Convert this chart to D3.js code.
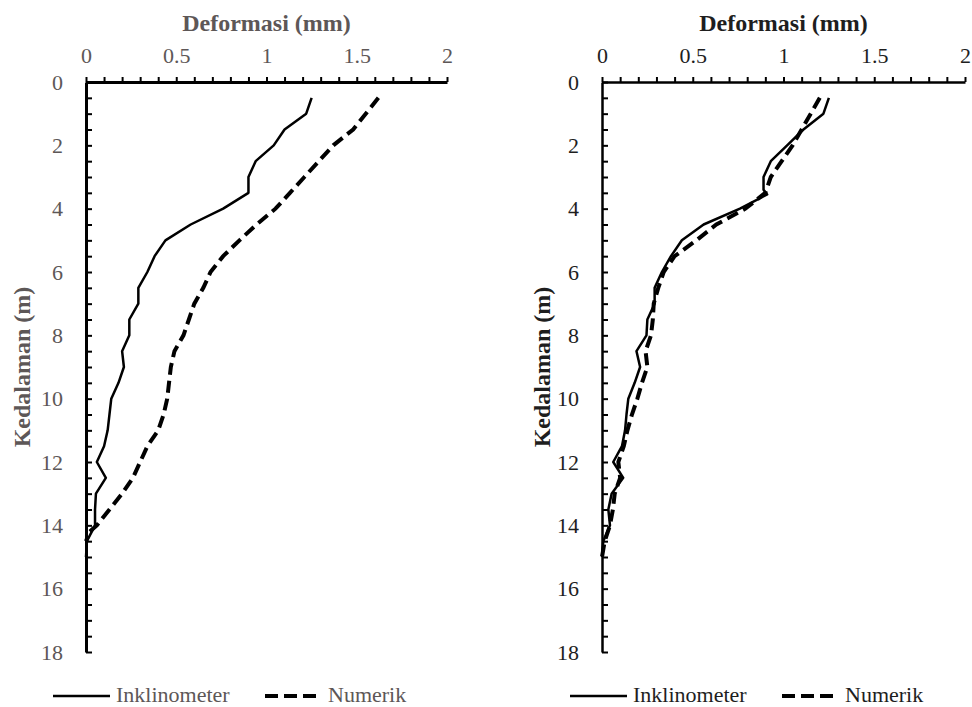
<!DOCTYPE html>
<html>
<head>
<meta charset="utf-8">
<script src="https://cdn.jsdelivr.net/npm/d3@7"></script>
<style>
  body { margin: 0; background: #fff; }
  svg text { font-family: "Liberation Serif", "DejaVu Serif", serif !important; }
</style>
</head>
<body>
<script>
// depth (m) and deformation (mm)
var depthLeftInkl = [0.5, 1, 1.5, 2, 2.5, 3, 3.5, 4, 4.5, 5, 5.5, 6, 6.5, 7, 7.5, 8, 8.5, 9, 9.5, 10, 10.5, 11, 11.5, 12, 12.5, 13, 13.5, 14, 14.5, 15];
var defLeftInkl = [1.25, 1.22, 1.10, 1.04, 0.94, 0.90, 0.90, 0.76, 0.58, 0.44, 0.38, 0.34, 0.29, 0.29, 0.24, 0.24, 0.20, 0.21, 0.18, 0.14, 0.13, 0.12, 0.10, 0.06, 0.11, 0.055, 0.05, 0.05, 0.005, 0];

var depthLeftNum = [0.5, 1, 1.5, 2, 2.5, 3, 3.5, 4, 4.5, 5, 5.5, 6, 6.5, 7, 7.5, 8, 8.5, 9, 9.5, 10, 10.5, 11, 11.5, 12, 12.5, 13, 13.5, 14, 14.2, 14.5];
var defLeftNum = [1.62, 1.55, 1.48, 1.37, 1.29, 1.21, 1.13, 1.05, 0.945, 0.85, 0.76, 0.69, 0.65, 0.60, 0.57, 0.54, 0.49, 0.47, 0.46, 0.45, 0.43, 0.40, 0.34, 0.30, 0.26, 0.20, 0.13, 0.06, 0.02, 0];

var depthRightInkl = [0.5, 1, 1.5, 2, 2.5, 3, 3.4, 3.55, 4, 4.5, 5, 5.5, 6, 6.5, 7, 7.5, 8, 8.5, 9, 9.5, 10, 10.5, 11, 11.5, 12, 12.5, 13, 13.5, 14, 14.5, 15];
var defRightInkl = [1.25, 1.22, 1.11, 1.02, 0.93, 0.89, 0.89, 0.91, 0.76, 0.56, 0.44, 0.38, 0.33, 0.29, 0.29, 0.25, 0.245, 0.19, 0.21, 0.18, 0.145, 0.135, 0.127, 0.11, 0.062, 0.117, 0.053, 0.035, 0.044, 0.007, 0];

var depthRightNum = [0.5, 1, 1.5, 2, 2.5, 3, 3.5, 4, 4.5, 5, 5.5, 6, 6.5, 7, 7.5, 8, 8.5, 9, 9.5, 10, 10.5, 11, 11.5, 12, 12.5, 13, 13.5, 14, 14.5, 15];
var defRightNum = [1.20, 1.15, 1.10, 1.05, 0.99, 0.93, 0.90, 0.79, 0.63, 0.52, 0.40, 0.34, 0.31, 0.285, 0.28, 0.27, 0.24, 0.25, 0.22, 0.195, 0.165, 0.14, 0.12, 0.09, 0.10, 0.07, 0.06, 0.044, 0.015, 0];

var xTicks = [0, 0.5, 1, 1.5, 2];
var yTicks = [0, 2, 4, 6, 8, 10, 12, 14, 16, 18];
var legendNames = ["Inklinometer", "Numerik"];

window.onload = function() {
    var w = 972, h = 707;
    var serif = "'Liberation Serif', 'DejaVu Serif', serif";

    var svg = d3.select("body")
        .append("svg")
        .attr("width", w)
        .attr("height", h);

    function zip(depths, defs) {
        return depths.map(function(d, i) { return { depth: d, def: defs[i] }; });
    }

    // one panel: axes on top/left, two lines, legend underneath
    function drawPanel(opt) {
        var g = svg.append("g");
        var x = d3.scaleLinear().domain([0, 2]).range([opt.x0, opt.x1]);
        var y = d3.scaleLinear().domain([0, 18]).range([82, 652]);

        // minor x ticks every 0.1
        g.append("g")
            .attr("transform", "translate(0,82)")
            .call(d3.axisTop(x).tickValues(d3.range(0, 2.001, 0.1)).tickSize(5).tickSizeOuter(0).tickFormat(""))
            .call(function(a) {
                a.select(".domain").attr("stroke", "#000").attr("stroke-width", opt.axisWidth);
                a.selectAll(".tick line").attr("stroke", "#000").attr("stroke-width", 2);
            });

        // labelled x ticks
        var xa = g.append("g")
            .attr("transform", "translate(0,82)")
            .call(d3.axisTop(x).tickValues(xTicks).tickSize(0).tickPadding(19).tickFormat(d3.format("")));
        xa.select(".domain").remove();
        xa.selectAll("text")
            .style("font-family", serif)
            .style("font-size", "22px")
            .attr("fill", opt.textColor)
            .attr("dy", "0");

        // minor y ticks every 0.5, pointing inside
        g.append("g")
            .attr("transform", "translate(" + opt.x0 + ",0)")
            .call(d3.axisLeft(y).tickValues(d3.range(0, 18.001, 0.5)).tickSize(-6).tickSizeOuter(0).tickFormat(""))
            .call(function(a) {
                a.select(".domain").attr("stroke", "#000").attr("stroke-width", opt.axisWidth);
                a.selectAll(".tick line").attr("stroke", "#000").attr("stroke-width", 2);
            });

        var ya = g.append("g")
            .attr("transform", "translate(" + opt.x0 + ",0)")
            .call(d3.axisLeft(y).tickValues(yTicks).tickSize(0).tickPadding(23));
        ya.select(".domain").remove();
        ya.selectAll("text")
            .style("font-family", serif)
            .style("font-size", "22px")
            .attr("fill", opt.textColor);

        // titles
        g.append("text")
            .attr("x", x(1))
            .attr("y", 31)
            .attr("text-anchor", "middle")
            .style("font-family", serif)
            .style("font-size", "24px")
            .style("font-weight", "bold")
            .attr("fill", opt.textColor)
            .text("Deformasi (mm)");

        g.append("text")
            .attr("transform", "translate(" + opt.yTitleX + "," + y(9) + ") rotate(-90)")
            .attr("text-anchor", "middle")
            .style("font-family", serif)
            .style("font-size", "24px")
            .style("font-weight", "bold")
            .attr("fill", opt.textColor)
            .text("Kedalaman (m)");

        var line = d3.line()
            .x(function(d) { return x(d.def); })
            .y(function(d) { return y(d.depth); });

        g.append("path")
            .datum(opt.inkl)
            .attr("d", line)
            .attr("fill", "none")
            .attr("stroke", "#000")
            .attr("stroke-width", 2.5)
            .attr("stroke-linejoin", "round");

        g.append("path")
            .datum(opt.num)
            .attr("d", line)
            .attr("fill", "none")
            .attr("stroke", "#000")
            .attr("stroke-width", 4)
            .attr("stroke-dasharray", "12,6");

        // legend
        var leg = g.selectAll(".legend")
            .data(legendNames)
            .enter()
            .append("g")
            .attr("class", "legend")
            .attr("transform", function(d, i) { return "translate(" + opt.legendX[i] + ",696)"; });

        leg.append("line")
            .attr("x1", 0)
            .attr("x2", function(d, i) { return i === 0 ? 57 : 52; })
            .attr("stroke", "#000")
            .attr("stroke-width", function(d, i) { return i === 0 ? 2.5 : 4; })
            .attr("stroke-dasharray", function(d, i) { return i === 0 ? null : "13,6"; });

        leg.append("text")
            .attr("x", function(d, i) { return i === 0 ? 63 : 63; })
            .attr("y", 6)
            .style("font-family", serif)
            .style("font-size", "22px")
            .attr("fill", opt.textColor)
            .text(function(d) { return d; });
    }

    drawPanel({
        x0: 86, x1: 447,
        textColor: "#5d5757",
        axisWidth: 3,
        yTitleX: 30,
        inkl: zip(depthLeftInkl, defLeftInkl),
        num: zip(depthLeftNum, defLeftNum),
        legendX: [53, 265]
    });

    drawPanel({
        x0: 602, x1: 965,
        textColor: "#1e1e1e",
        axisWidth: 2.5,
        yTitleX: 550,
        inkl: zip(depthRightInkl, defRightInkl),
        num: zip(depthRightNum, defRightNum),
        legendX: [570, 782]
    });
};
</script>
</body>
</html>
